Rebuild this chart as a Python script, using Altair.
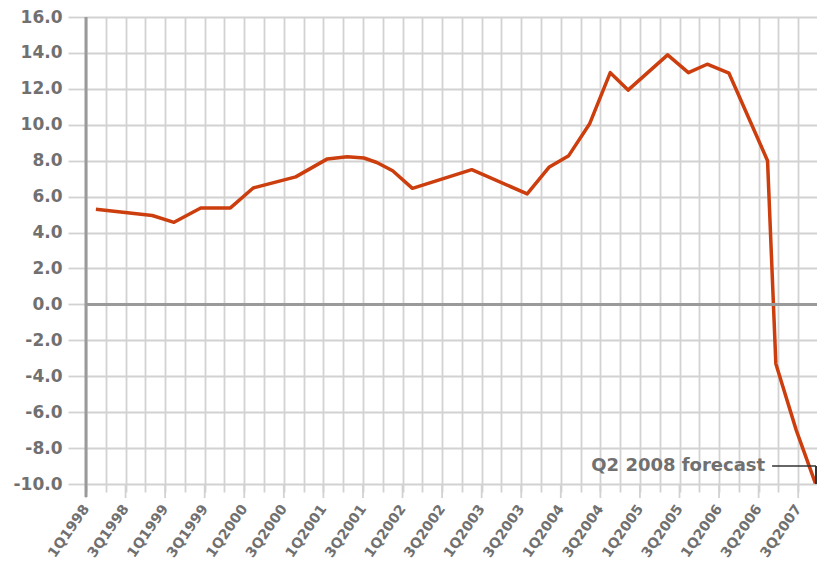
import altair as alt
import pandas as pd

# quarter index (0 = 1Q1998, one unit per gridline) and value
qx = [0.5, 3.35, 4.45, 5.8, 7.3, 8.45, 10.6, 12.2, 13.2, 14.05, 14.7, 15.5, 16.5,
      19.5, 22.3, 23.4, 24.4, 25.45, 26.5, 27.4, 29.4, 30.45, 31.4, 32.5, 34.45,
      34.87, 35.9, 36.87]
vals = [5.3, 4.95, 4.57, 5.37, 5.37, 6.48, 7.1, 8.1, 8.22, 8.15, 7.9, 7.44, 6.46,
        7.5, 6.15, 7.63, 8.28, 10.04, 12.9, 11.93, 13.89, 12.9, 13.37, 12.87, 8.0,
        -3.3, -7.0, -9.96]

tick_labels = ["1Q1998", "3Q1998", "1Q1999", "3Q1999", "1Q2000", "3Q2000", "1Q2001",
               "3Q2001", "1Q2002", "3Q2002", "1Q2003", "3Q2003", "1Q2004", "3Q2004",
               "1Q2005", "3Q2005", "1Q2006", "3Q2006", "3Q2007"]
label_pos = [2 * i for i in range(len(tick_labels))]
grid_pos = list(range(0, 37))
y_ticks = list(range(-10, 17, 2))

annot_text = "Q2 2008 forecast"
annot_x = 34.33
annot_line_x = [34.68, 36.9]
annot_y = -9.0

W, H = 731, 467
FONT = "DejaVu Sans"
GREY_TXT = "#707070"
GRID = "#d2d2d2"

label_expr = " : ".join(
    f"datum.value == {p} ? '{t}'" for p, t in zip(label_pos, tick_labels)
) + " : ''"

xscale = alt.Scale(domain=[0, 36.95], nice=False, zero=False)
yscale = alt.Scale(domain=[-10, 16], nice=False)

xaxis = alt.Axis(
    values=grid_pos, grid=True, gridColor=GRID, gridWidth=1.8,
    tickSize=8, tickColor=GRID, tickWidth=1.8, domain=False,
    labelExpr=label_expr, labelAngle=-55, labelAlign="right", labelBaseline="middle",
    labelPadding=14, labelFont=FONT, labelFontSize=14, labelFontWeight="bold",
    labelColor=GREY_TXT, labelOverlap=False, labelBound=False, title=None)
yaxis = alt.Axis(
    values=y_ticks, grid=True, gridColor=GRID, gridWidth=1.8,
    labelExpr="(datum.value < 0 ? '-' : '') + format(abs(datum.value), '.1f')",
    tickSize=18, tickColor=GRID, tickWidth=1.8, domain=False,
    labelPadding=6, labelFont=FONT, labelFontSize=17, labelFontWeight="bold",
    labelColor=GREY_TXT, labelOverlap=False, title=None)

df = pd.DataFrame({"q": qx, "v": vals})

line = alt.Chart(df).mark_line(color="#CC3E0E", strokeWidth=3.5, strokeJoin="round").encode(
    x=alt.X("q:Q", scale=xscale, axis=xaxis),
    y=alt.Y("v:Q", scale=yscale, axis=yaxis),
)

long_ticks = alt.Chart(pd.DataFrame({"q": label_pos})).mark_rule(
    color=GRID, strokeWidth=1.8).encode(
    x=alt.X("q:Q", scale=xscale, axis=xaxis),
    y=alt.value(H), y2=alt.value(H + 14))

zero_line = alt.Chart(pd.DataFrame({"v": [0]})).mark_rule(
    color="#9a9a9a", strokeWidth=3).encode(
    y=alt.Y("v:Q", scale=yscale, axis=yaxis))

y_axis_line = alt.Chart(pd.DataFrame({"q": [0]})).mark_rule(
    color="#9a9a9a", strokeWidth=3).encode(
    x=alt.X("q:Q", scale=xscale, axis=xaxis),
    y=alt.value(0), y2=alt.value(H + 13))

annot_df = pd.DataFrame({"q": [annot_x], "v": [annot_y], "t": [annot_text]})
annot = alt.Chart(annot_df).mark_text(
    align="right", baseline="middle", font=FONT, fontSize=18, fontWeight="bold",
    color=GREY_TXT).encode(
    x=alt.X("q:Q", scale=xscale, axis=xaxis),
    y=alt.Y("v:Q", scale=yscale, axis=yaxis),
    text="t:N")

hline_df = pd.DataFrame({"q": [annot_line_x[0]], "q2": [annot_line_x[1]], "v": [annot_y]})
annot_h = alt.Chart(hline_df).mark_rule(color="#333333", strokeWidth=1.5).encode(
    x=alt.X("q:Q", scale=xscale, axis=xaxis), x2="q2:Q",
    y=alt.Y("v:Q", scale=yscale, axis=yaxis))

vline_df = pd.DataFrame({"q": [annot_line_x[1]], "v": [annot_y], "v2": [-10]})
annot_v = alt.Chart(vline_df).mark_rule(color="#333333", strokeWidth=2).encode(
    x=alt.X("q:Q", scale=xscale, axis=xaxis),
    y=alt.Y("v:Q", scale=yscale, axis=yaxis), y2="v2:Q")

chart = alt.layer(line, long_ticks, zero_line, y_axis_line, annot_h, annot_v, annot).properties(
    width=W, height=H,
    autosize=alt.AutoSizeParams(type="none"),
    padding={"left": 78, "top": 9, "right": 0, "bottom": 80},
).configure_view(stroke=None).configure(background="white")

chart.save("out.html", embed_options={"renderer": "svg", "actions": False})
